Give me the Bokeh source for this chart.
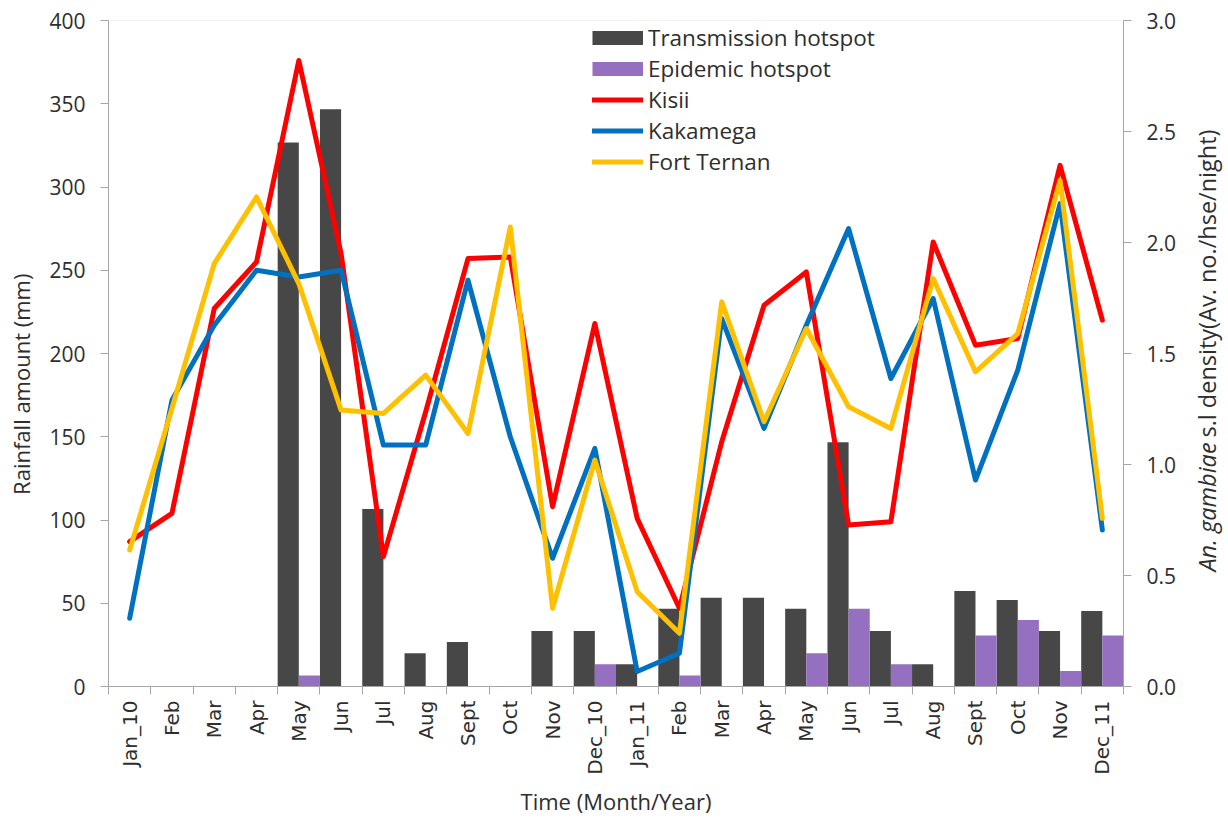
import math
from bokeh.plotting import figure
from bokeh.layouts import row
from bokeh.models import (Range1d, LinearAxis, FixedTicker, SingleIntervalTicker,
                          Legend, LegendItem, Label, PrintfTickFormatter)
from bokeh.embed import file_html
from bokeh.resources import INLINE

months = ["Jan_10", "Feb", "Mar", "Apr", "May", "Jun", "Jul", "Aug", "Sept", "Oct", "Nov", "Dec_10",
          "Jan_11", "Feb", "Mar", "Apr", "May", "Jun", "Jul", "Aug", "Sept", "Oct", "Nov", "Dec_11"]

# rainfall (mm), left axis
kisii = [87, 104, 227, 255, 376, 260, 78, 165, 257, 258, 108, 218,
         101, 47, 147, 229, 249, 97, 99, 267, 205, 209, 313, 220]
kakamega = [41, 172, 217, 250, 246, 250, 145, 145, 244, 150, 77, 143,
            9, 20, 221, 155, 217, 275, 185, 233, 124, 190, 290, 94]
fort_ternan = [82, 167, 254, 294, 242, 166, 164, 187, 152, 276, 47, 136,
               57, 32, 231, 159, 215, 168, 155, 245, 189, 212, 304, 101]

# An. gambiae density, right axis
transmission = [0, 0, 0, 0, 2.45, 2.60, 0.80, 0.15, 0.20, 0, 0.25, 0.25,
                0.10, 0.35, 0.40, 0.40, 0.35, 1.10, 0.25, 0.10, 0.43, 0.39, 0.25, 0.34]
epidemic = [0, 0, 0, 0, 0.05, 0, 0, 0, 0, 0, 0, 0.10,
            0, 0.05, 0, 0, 0.15, 0.35, 0.10, 0, 0.23, 0.30, 0.07, 0.23]

DARK = "#474747"
PURPLE = "#9670C0"
RED = "#FF0000"
BLUE = "#0070C0"
GOLD = "#FFC000"
TXT = "#2E2E2E"
AX = "#A6A6A6"
FONT = "Open Sans"

n = len(months)
xc = [i + 0.5 for i in range(n)]
x_tr = [i + 0.25 for i in range(n)]
x_ep = [i + 0.75 for i in range(n)]

H = 824


def title_fig(width):
    f = figure(width=width, height=H, x_range=Range1d(0, width), y_range=Range1d(0, H),
               output_backend="svg", toolbar_location=None,
               x_axis_location=None, y_axis_location=None,
               min_border=0, min_border_left=0, min_border_right=0,
               min_border_top=0, min_border_bottom=0)
    f.grid.visible = False
    f.outline_line_color = None
    f.background_fill_color = "white"
    f.border_fill_color = "white"
    return f


# left title panel
lt = title_fig(36)
lt.add_layout(Label(x=20, y=374, text="Rainfall amount (mm)", angle=math.pi / 2,
                    text_align="center", text_baseline="middle", text_font=FONT,
                    text_font_size="22px", text_color=TXT))

# right title panel
rt = title_fig(40)
rt.add_layout(Label(x=18, y=302, text="An. gambiae", angle=math.pi / 2,
                    text_align="right", text_baseline="middle", text_font=FONT,
                    text_font_style="italic", text_font_size="23.5px", text_color=TXT))
rt.add_layout(Label(x=18, y=308, text="s.l density(Av. no./hse/night)", angle=math.pi / 2,
                    text_align="left", text_baseline="middle", text_font=FONT,
                    text_font_size="23.5px", text_color=TXT))

# main chart
p = figure(width=1152, height=H, x_range=Range1d(0, n), y_range=Range1d(0, 400),
           output_backend="svg", toolbar_location=None,
           min_border_left=72, min_border_right=65, min_border_top=20, min_border_bottom=138)
p.extra_y_ranges = {"dens": Range1d(0, 3)}
p.xgrid.visible = False
p.ygrid.visible = False
p.outline_line_color = "#F2F2F2"
p.background_fill_color = "white"
p.border_fill_color = "white"

# bars (right axis)
p.vbar(x=x_tr, top=transmission, width=0.5, fill_color=DARK, line_color=None, y_range_name="dens")
p.vbar(x=x_ep, top=epidemic, width=0.5, fill_color=PURPLE, line_color=None, y_range_name="dens")

# lines (left axis)
r_k = p.line(xc, kisii, line_color=RED, line_width=5, line_join="round", line_cap="round")
r_ka = p.line(xc, kakamega, line_color=BLUE, line_width=5, line_join="round", line_cap="round")
r_f = p.line(xc, fort_ternan, line_color=GOLD, line_width=5, line_join="round", line_cap="round")

# hidden legend proxies for the bar series (thick swatches)
l_tr = p.line(xc, transmission, line_color=DARK, line_width=14, line_cap="butt",
              y_range_name="dens", visible=False)
l_ep = p.line(xc, epidemic, line_color=PURPLE, line_width=14, line_cap="butt",
              y_range_name="dens", visible=False)

# x axis
xa = p.xaxis[0]
xa.ticker = FixedTicker(ticks=xc, minor_ticks=list(range(n + 1)))
xa.major_label_overrides = {xc[i]: months[i] for i in range(n)}
xa.major_label_orientation = math.pi / 2
xa.major_tick_out = 0
xa.major_tick_in = 0
xa.minor_tick_out = 8
xa.minor_tick_in = 0
xa.minor_tick_line_color = AX
xa.axis_line_color = AX
xa.major_label_standoff = 6
xa.major_label_text_font = "DejaVu Sans"
xa.major_label_text_font_size = "20px"
xa.major_label_text_color = TXT
xa.axis_label = "Time (Month/Year)"
xa.axis_label_text_font = FONT
xa.axis_label_text_font_size = "22px"
xa.axis_label_text_font_style = "normal"
xa.axis_label_text_color = TXT
xa.axis_label_standoff = 8

# left axis
ya = p.yaxis[0]
ya.ticker = SingleIntervalTicker(interval=50)
ya.major_tick_out = 8
ya.major_tick_in = 0
ya.minor_tick_out = 0
ya.minor_tick_in = 0
ya.major_tick_line_color = AX
ya.axis_line_color = AX
ya.major_label_standoff = 15
ya.major_label_text_font = FONT
ya.major_label_text_font_size = "21px"
ya.major_label_text_color = TXT

# right axis
ra = LinearAxis(y_range_name="dens", ticker=SingleIntervalTicker(interval=0.5),
                formatter=PrintfTickFormatter(format="%.1f"))
ra.major_tick_out = 8
ra.major_tick_in = 0
ra.minor_tick_out = 0
ra.minor_tick_in = 0
ra.major_tick_line_color = AX
ra.axis_line_color = AX
ra.major_label_standoff = 15
ra.major_label_text_font = FONT
ra.major_label_text_font_size = "21px"
ra.major_label_text_color = TXT
p.add_layout(ra, "right")

legend = Legend(items=[LegendItem(label="Transmission hotspot", renderers=[l_tr]),
                       LegendItem(label="Epidemic hotspot", renderers=[l_ep]),
                       LegendItem(label="Kisii", renderers=[r_k]),
                       LegendItem(label="Kakamega", renderers=[r_ka]),
                       LegendItem(label="Fort Ternan", renderers=[r_f])],
                location=(484, 509), glyph_width=51, glyph_height=31, label_height=31,
                spacing=0, padding=0, margin=0, label_standoff=5,
                label_text_font=FONT, label_text_font_size="22.5px", label_text_color=TXT,
                border_line_alpha=0, background_fill_alpha=0, inactive_fill_alpha=0)
p.add_layout(legend)

layout = row(lt, p, rt)
open("out.html", "w").write(file_html(layout, INLINE))
